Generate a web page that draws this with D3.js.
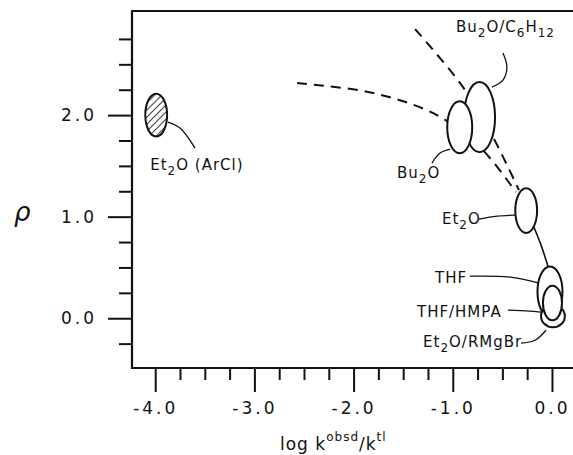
<!DOCTYPE html>
<html>
<head>
<meta charset="utf-8">
<script src="https://cdnjs.cloudflare.com/ajax/libs/d3/7.8.5/d3.min.js"></script>
<style>
  body { margin: 0; background: #fff; }
  svg text { font-family: "DejaVu Sans", sans-serif; fill: #111; }
  .tick text { font-size: 17px; letter-spacing: 3px; }
  .note { font-size: 15px; letter-spacing: 1px; }
</style>
</head>
<body>
<div id="chart"></div>
<script>
// ---- data ----
var solvents  = ["Et{2}O (ArCl)", "Bu{2}O", "Bu{2}O/C{6}H{12}", "Et{2}O", "THF", "THF/HMPA", "Et{2}O/RMgBr"];
var logK      = [-3.99, -0.93, -0.73, -0.26, -0.02, 0.005, 0.01];
var rho       = [2.00, 1.88, 1.98, 1.06, 0.26, 0.15, 0.02];
var logKSpread = [0.11, 0.126, 0.156, 0.11, 0.126, 0.096, 0.12];
var rhoSpread  = [0.21, 0.256, 0.345, 0.22, 0.25, 0.17, 0.11];
var hatched   = [true, false, false, false, false, false, false];
var drawOrder = [0, 2, 1, 3, 4, 6, 5];

// label anchors (text start / baseline) in data units
var labelX = [-4.05, -1.5625, -0.968, -1.109, -1.179, -1.361, -1.30];
var labelY = [1.458, 1.379, 2.818, 0.926, 0.345, 0.010, -0.286];

// leader lines from label to ellipse, data units
var leaders = [
  [[-3.871, 1.931], [-3.75, 1.872], [-3.599, 1.675]],
  [[-1.21, 1.527], [-1.129, 1.626], [-1.028, 1.665]],
  [[-0.494, 2.611], [-0.454, 2.473], [-0.494, 2.345], [-0.605, 2.276]],
  [[-0.736, 0.975], [-0.554, 1.005], [-0.373, 1.015]],
  [[-0.827, 0.414], [-0.423, 0.404], [-0.131, 0.345]],
  [[-0.4435, 0.079], [-0.222, 0.069], [-0.02, 0.049]],
  [[-0.3125, -0.246], [-0.171, -0.217], [-0.06, -0.118]]
];

// dashed trend curves and the solid connector
var fitShallowX = [-2.57, -1.80, -1.16, -0.726, -0.363];
var fitShallowY = [2.315, 2.217, 2.00, 1.685, 1.241];
var fitSteepX   = [-1.38, -0.897, -0.595, -0.333];
var fitSteepY   = [2.847, 2.276, 1.783, 1.261];
var linkX = [-0.19, -0.11, -0.04];
var linkY = [0.916, 0.72, 0.51];

var xMajor = [-4, -3, -2, -1, 0];
var yMajor = [0, 1, 2];

// ---- chart ----
var margin = { top: 11, right: 0, bottom: 87, left: 132 };
var width = 573 - margin.left - margin.right;
var height = 455 - margin.top - margin.bottom;

var svg = d3.select("#chart").append("svg")
    .attr("width", 573)
    .attr("height", 455);

var defs = svg.append("defs");
defs.append("pattern")
    .attr("id", "hatch")
    .attr("patternUnits", "userSpaceOnUse")
    .attr("width", 5).attr("height", 5)
    .attr("patternTransform", "rotate(45)")
    .append("line")
    .attr("x1", 0).attr("y1", 0).attr("x2", 0).attr("y2", 5)
    .attr("stroke", "#111").attr("stroke-width", 1.6);

var g = svg.append("g")
    .attr("transform", "translate(" + margin.left + "," + margin.top + ")");

var x = d3.scaleLinear().domain([-4.234, 0.212]).range([0, width]);
var y = d3.scaleLinear().domain([-0.49, 3.025]).range([height, 0]);

var minorX = d3.range(-4, 0.01, 0.25).filter(function(v) { return Math.abs(v - Math.round(v)) > 0.01; });
var minorY = d3.range(-0.25, 3.0, 0.25).filter(function(v) { return Math.abs(v - Math.round(v)) > 0.01; });

// axes
var xAxis = g.append("g")
    .attr("transform", "translate(0," + height + ")")
    .call(d3.axisBottom(x).tickValues(xMajor).tickSize(24).tickPadding(10)
        .tickFormat(function(d) { return d.toFixed(1); }));
g.append("g")
    .attr("transform", "translate(0," + height + ")")
    .call(d3.axisBottom(x).tickValues(minorX).tickSize(12).tickFormat(""));

var yAxis = g.append("g")
    .call(d3.axisLeft(y).tickValues(yMajor).tickSize(24).tickPadding(11)
        .tickFormat(function(d) { return d.toFixed(1); }));
g.append("g")
    .call(d3.axisLeft(y).tickValues(minorY).tickSize(13).tickFormat(""));

g.selectAll(".domain").remove();
g.selectAll(".tick line").attr("stroke", "#111").attr("stroke-width", 2);
g.selectAll(".tick text").attr("fill", "#111");

// frame: left, bottom, top
g.append("path")
    .attr("d", "M" + width + ",0H0V" + height + "H" + width)
    .attr("fill", "none").attr("stroke", "#111").attr("stroke-width", 2.2);

// curves
var line = d3.line()
    .x(function(d) { return x(d[0]); })
    .y(function(d) { return y(d[1]); })
    .curve(d3.curveCatmullRom);

function pairs(xs, ys) { return xs.map(function(v, i) { return [v, ys[i]]; }); }

g.append("path").datum(pairs(fitShallowX, fitShallowY))
    .attr("d", line).attr("fill", "none")
    .attr("stroke", "#111").attr("stroke-width", 2).attr("stroke-dasharray", "10,7");
g.append("path").datum(pairs(fitSteepX, fitSteepY))
    .attr("d", line).attr("fill", "none")
    .attr("stroke", "#111").attr("stroke-width", 2).attr("stroke-dasharray", "10,7");
g.append("path").datum(pairs(linkX, linkY))
    .attr("d", line).attr("fill", "none")
    .attr("stroke", "#111").attr("stroke-width", 1.6);

// leaders
g.selectAll(".leader")
    .data(leaders)
    .enter().append("path")
    .attr("class", "leader")
    .attr("d", line)
    .attr("fill", "none")
    .attr("stroke", "#111")
    .attr("stroke-width", 1.3);

// ellipses
g.selectAll(".blob")
    .data(drawOrder)
    .enter().append("ellipse")
    .attr("class", "blob")
    .attr("cx", function(i) { return x(logK[i]); })
    .attr("cy", function(i) { return y(rho[i]); })
    .attr("rx", function(i) { return x(logK[i] + logKSpread[i]) - x(logK[i]); })
    .attr("ry", function(i) { return y(rho[i]) - y(rho[i] + rhoSpread[i]); })
    .attr("fill", function(i) { return hatched[i] ? "url(#hatch)" : "#fff"; })
    .attr("stroke", "#111")
    .attr("stroke-width", 2);

// labels with subscripts marked by {}
function addRich(sel, str, subSize, shift) {
    var parts = str.split(/(\{[^}]*\})/).filter(function(s) { return s.length; });
    var lowered = false;
    parts.forEach(function(p) {
        if (p.charAt(0) === "{") {
            sel.append("tspan").attr("font-size", subSize).attr("dy", lowered ? 0 : shift).text(p.slice(1, -1));
            lowered = true;
        } else {
            sel.append("tspan").attr("dy", lowered ? -shift : 0).text(p);
            lowered = false;
        }
    });
}

solvents.forEach(function(s, i) {
    var t = g.append("text")
        .attr("class", "note")
        .attr("x", x(labelX[i]))
        .attr("y", y(labelY[i]));
    addRich(t, s, 12, 5);
});

// axis titles
var xt = svg.append("text")
    .attr("x", 280).attr("y", 450)
    .attr("font-size", 17).attr("letter-spacing", 1);
xt.append("tspan").text("log k");
xt.append("tspan").attr("font-size", 12).attr("dy", -9).text("obsd");
xt.append("tspan").attr("dy", 9).text("/k");
xt.append("tspan").attr("font-size", 12).attr("dy", -9).text("tl");

svg.append("text")
    .attr("x", 14).attr("y", 221)
    .attr("font-size", 26).attr("font-style", "italic")
    .text("ρ");
</script>
</body>
</html>
